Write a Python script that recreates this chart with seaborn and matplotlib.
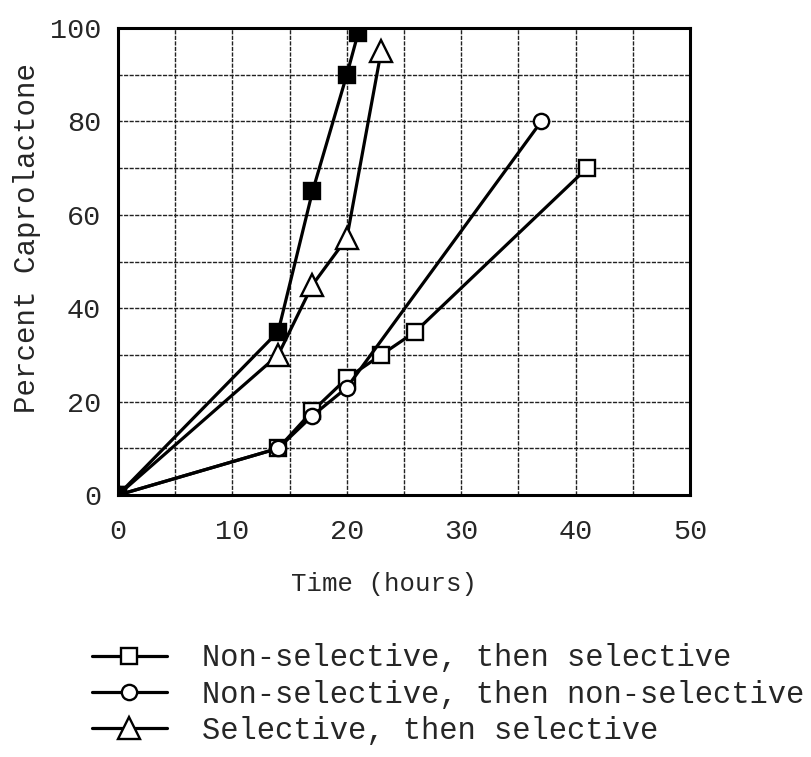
import numpy as np
import pandas as pd
import seaborn as sns
import matplotlib.pyplot as plt
from matplotlib.ticker import MultipleLocator

# Data (time in hours, percent caprolactone)
ns_s_time = [0, 14, 17, 20, 23, 26, 41]
ns_s_pct = [0, 10, 18, 25, 30, 35, 70]

ns_ns_time = [0, 14, 17, 20, 37]
ns_ns_pct = [0, 10, 17, 23, 80]

s_s_time = [0, 14, 17, 20, 23]
s_s_pct = [0, 30, 45, 55, 95]

filled_time = [0, 14, 17, 20, 21]
filled_pct = [0, 35, 65, 90, 99]

labels = ["Non-selective, then selective",
          "Non-selective, then non-selective",
          "Selective, then selective"]

sns.set_style("white")
plt.rcParams['font.family'] = ['Liberation Mono', 'DejaVu Sans Mono']

fig = plt.figure(figsize=(8.12, 7.57), dpi=100)
ax = fig.add_axes([0.1453, 0.346, 0.7045, 0.617])

series = [
    (ns_s_time, ns_s_pct, "s", "white", 11, labels[0]),
    (ns_ns_time, ns_ns_pct, "o", "white", 11, labels[1]),
    (s_s_time, s_s_pct, "^", "white", 16, labels[2]),
    (filled_time, filled_pct, "s", "black", 12, None),
]

handles = []
for t, p, m, fc, ms, lab in series:
    df = pd.DataFrame({"time": t, "pct": p})
    sns.lineplot(data=df, x="time", y="pct", ax=ax, color="black",
                 linewidth=2.3, marker=m, markersize=ms,
                 markerfacecolor=fc, markeredgecolor="black",
                 markeredgewidth=1.7, legend=False, zorder=3)
    if lab is not None:
        handles.append((ax.lines[-1], lab))

ax.set_xlim(0, 50)
ax.set_ylim(0, 100)
ax.xaxis.set_major_locator(MultipleLocator(10))
ax.xaxis.set_minor_locator(MultipleLocator(5))
ax.yaxis.set_major_locator(MultipleLocator(20))
ax.yaxis.set_minor_locator(MultipleLocator(10))
ax.grid(True, which="both", color="#222222", linewidth=1.0,
        linestyle=(0, (3, 1)))
ax.set_axisbelow(True)
ax.tick_params(which="both", length=0, labelsize=20.5)
ax.tick_params(axis="x", pad=17)
ax.tick_params(axis="y", pad=12)
for sp in ax.spines.values():
    sp.set_linewidth(2.2)
    sp.set_color("black")

ax.set_xlabel("Time (hours)", fontsize=18.5)
ax.set_ylabel("Percent Caprolactone", fontsize=21)
ax.xaxis.set_label_coords(0.465, -0.165)
ax.yaxis.set_label_coords(-0.135, 0.55)

leg = ax.legend([h for h, _ in handles], [l for _, l in handles],
                loc="upper left", bbox_to_anchor=(0.113, 0.150),
                bbox_transform=fig.transFigure, frameon=False,
                fontsize=22, handlelength=2.45, handletextpad=1.15,
                labelspacing=0.2, borderpad=0, borderaxespad=0)

fig.savefig("out.png", dpi=100)
